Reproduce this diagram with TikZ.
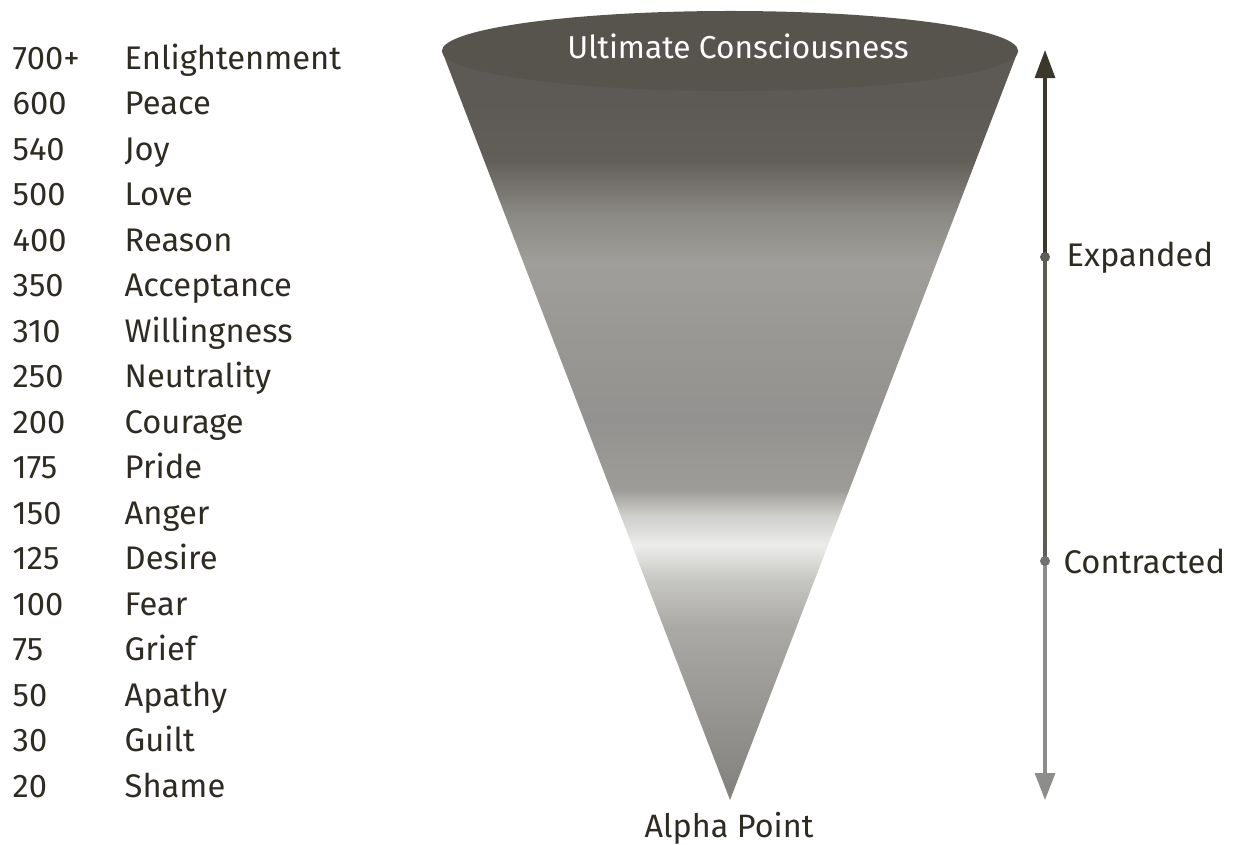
\documentclass[tikz,border=0pt]{standalone}
\usepackage{fontspec}
\setmainfont{Fira Sans}
\usetikzlibrary{arrows.meta}

\definecolor{ink}{HTML}{2E2B22}
\definecolor{rimtop}{HTML}{57544E}
\definecolor{axisdark}{HTML}{3B372A}
\definecolor{axismid}{HTML}{5E5C56}
\definecolor{axislight}{HTML}{8D8D8B}

% cone greys, from apex up to rim
\definecolor{cg1}{HTML}{85837F}
\definecolor{cg2}{HTML}{9A9894}
\definecolor{cg3}{HTML}{AAA9A5}
\definecolor{cg4}{HTML}{C6C6C3}
\definecolor{cg5}{HTML}{ECECEA}
\definecolor{cg6}{HTML}{CFCFCC}
\definecolor{cg7}{HTML}{9D9C98}
\definecolor{cg8}{HTML}{939290}
\definecolor{cg9}{HTML}{999894}
\definecolor{cg10}{HTML}{9F9E9A}
\definecolor{cg11}{HTML}{8C8A85}
\definecolor{cg12}{HTML}{625F59}
\definecolor{cg13}{HTML}{5D5A55}

% 25bp = apex, 75bp = rim
\pgfdeclareverticalshading{conefade}{100bp}{%
  color(0bp)=(cg1);
  color(25.7bp)=(cg1);
  color(31.7bp)=(cg2);
  color(36.5bp)=(cg3);
  color(39.7bp)=(cg4);
  color(42bp)=(cg5);
  color(44bp)=(cg6);
  color(45.7bp)=(cg7);
  color(50.4bp)=(cg8);
  color(56.4bp)=(cg9);
  color(60.8bp)=(cg10);
  color(64bp)=(cg11);
  color(67.7bp)=(cg12);
  color(71.7bp)=(cg13);
  color(100bp)=(cg13)}

\tikzset{
  level/.style={anchor=base west, text=ink, inner sep=0pt, font=\fontsize{9.3}{11}\selectfont},
  side/.style={anchor=west, text=ink, inner sep=0pt, font=\fontsize{9.3}{11}\selectfont},
}

\begin{document}
\begin{tikzpicture}[x=0.01cm, y=-0.01cm]
    \useasboundingbox (0,0) rectangle (1237,844);

    % scale of levels
    \foreach \val/\name [count=\i] in {700+/Enlightenment, 600/Peace, 540/Joy,
        500/Love, 400/Reason, 350/Acceptance, 310/Willingness, 250/Neutrality,
        200/Courage, 175/Pride, 150/Anger, 125/Desire, 100/Fear, 75/Grief,
        50/Apathy, 30/Guilt, 20/Shame}
    {
        \node[level] (num\i) at (12, {69+45.5*(\i-1)}) {\val};
        \node[level] (lvl\i) at (124, {69+45.5*(\i-1)}) {\name};
    }

    % the cone
    \coordinate (rimL) at (442,51);
    \coordinate (rimR) at (1018,51);
    \coordinate (apex) at (730,800);
    \shade[shading=conefade] (rimL) -- (apex) -- (rimR) -- cycle;
    \fill[rimtop] (730,51) ellipse [x radius=2.88cm, y radius=0.4cm];

    \node[text=white, font=\fontsize{9}{11}\selectfont] (top) at (738,46) {Ultimate Consciousness};
    \node[text=ink, font=\fontsize{9.2}{11}\selectfont] (alpha) at (729,828) {Alpha Point};

    % expanded / contracted axis
    \coordinate (axtop) at (1045,50);
    \coordinate (axbot) at (1045,800);
    \coordinate (expd) at (1045,257);
    \coordinate (contr) at (1045,561);

    \draw[line width=0.9pt, axisdark, -{Triangle[width=0.2cm, length=0.28cm]}] (expd) -- (axtop);
    \draw[line width=0.9pt, axismid] (expd) -- (contr);
    \draw[line width=0.9pt, axislight, -{Triangle[width=0.2cm, length=0.27cm]}] (contr) -- (axbot);
    \fill[axismid] (expd) circle (0.05cm);
    \fill[axislight!80!black] (contr) circle (0.05cm);

    \node[side] (exptxt) at (1066,258) {Expanded};
    \node[side] (contxt) at (1063,561) {Contracted};

\end{tikzpicture}
\end{document}
